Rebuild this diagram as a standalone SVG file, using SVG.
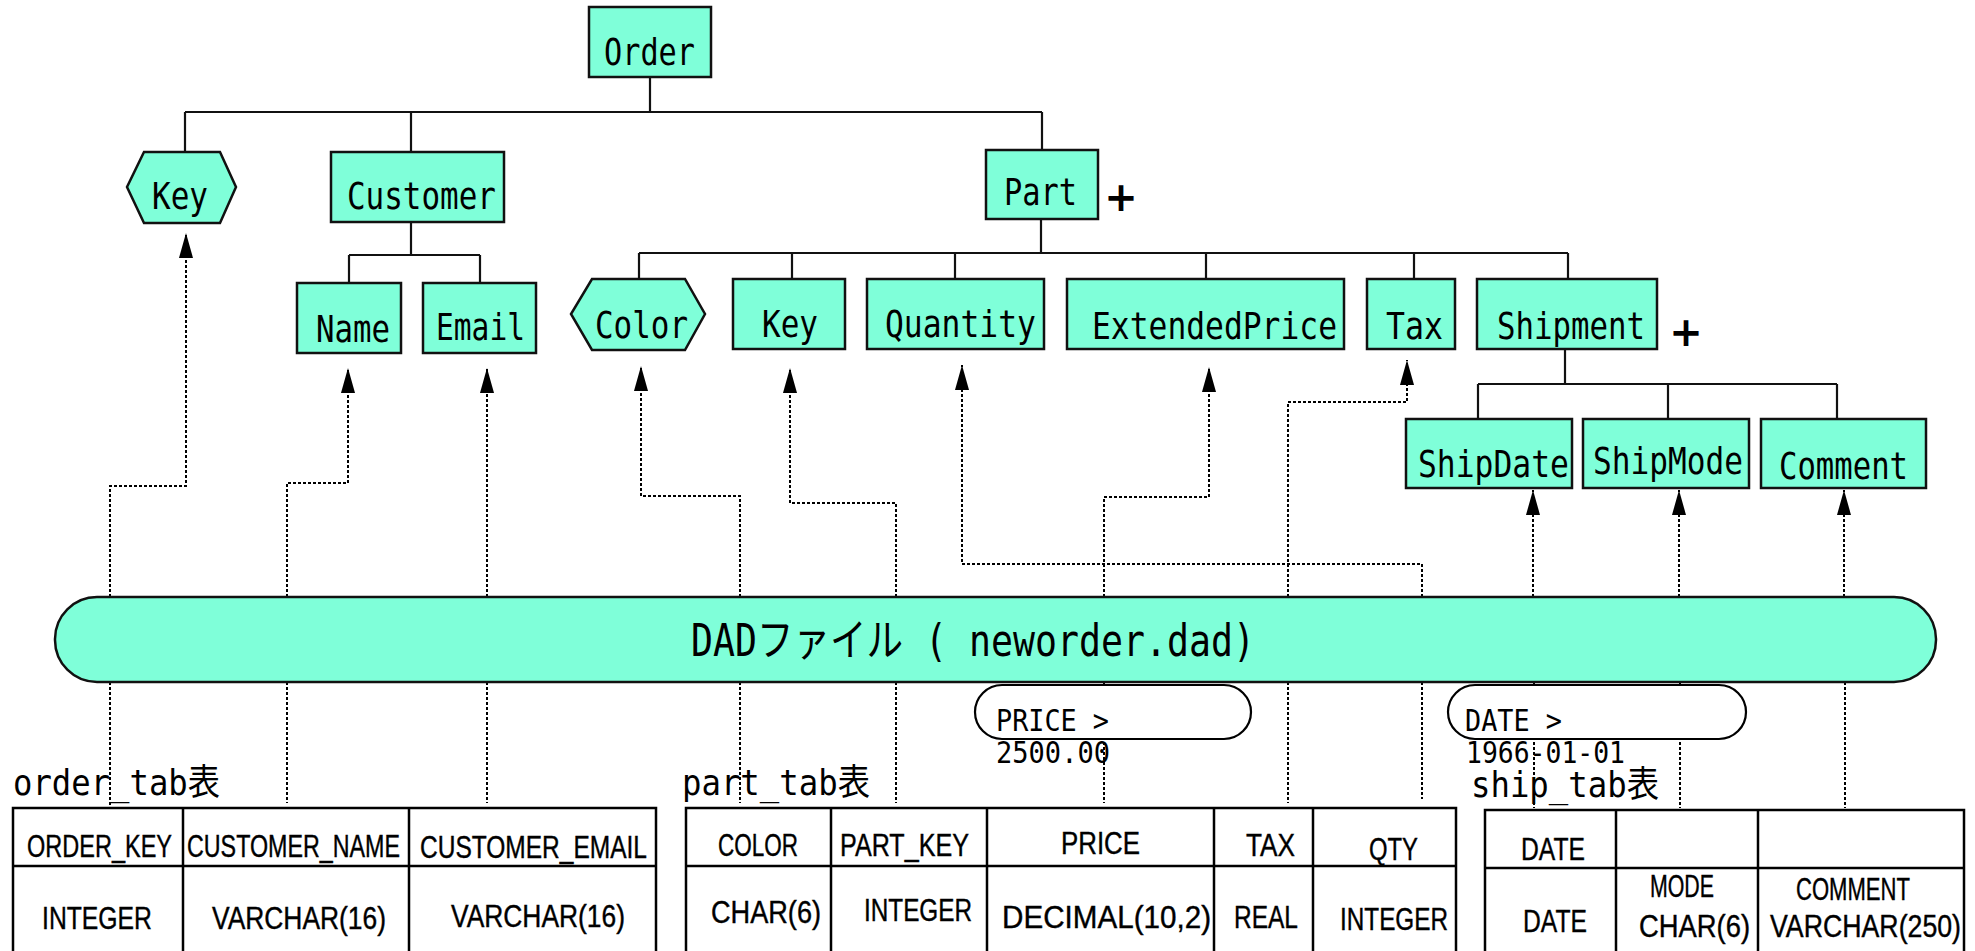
<svg xmlns="http://www.w3.org/2000/svg" width="1975" height="951" viewBox="0 0 1975 951">
<style>
.box{fill:#7fffd9;stroke:#111;stroke-width:2.5}
.n{font-family:"DejaVu Sans Mono",monospace;font-size:38px;fill:#000}
.t{font-family:"Liberation Sans",Arial,sans-serif;font-size:31px;fill:#000;stroke:#000;stroke-width:0.4}
.lbl{font-family:"DejaVu Sans Mono","Noto Sans CJK JP",monospace;font-size:36px;fill:#000}
.cond{font-family:"DejaVu Sans Mono",monospace;font-size:31px;fill:#000}
.tree{fill:none;stroke:#111;stroke-width:2.2}
.dot{fill:none;stroke:#000;stroke-width:2;stroke-dasharray:3 2}
.tbl{fill:none;stroke:#000;stroke-width:2.5}
.pill{fill:#fff;stroke:#000;stroke-width:2.2}
.plus{font-family:"DejaVu Sans",sans-serif;font-size:40px;font-weight:bold;fill:#000}
</style>
<defs>
<marker id="ah" markerUnits="userSpaceOnUse" viewBox="0 0 25 14" markerWidth="25" markerHeight="14" refX="25" refY="7" orient="auto">
<path d="M0,0 L25,7 L0,14 z" fill="#000"/>
</marker>
</defs>
<rect width="1975" height="951" fill="#fff"/>

<g id="tree-lines">
<path class="tree" d="M650,77 V112 M185,112 H1042 M185,112 V152 M411,112 V152 M1042,112 V150"/>
<path class="tree" d="M411,222 V255 M349,255 H480 M349,255 V283 M480,255 V283"/>
<path class="tree" d="M1041,219 V253 M639,253 H1568 M639,253 V279 M792,253 V279 M955,253 V279 M1206,253 V279 M1414,253 V279 M1568,253 V279"/>
<path class="tree" d="M1565,349 V384 M1478,384 H1837 M1478,384 V419 M1668,384 V419 M1837,384 V419"/>
</g>

<g id="connectors">
<path class="dot" marker-end="url(#ah)" d="M110,597 V486 H186 V233"/>
<path class="dot" marker-end="url(#ah)" d="M287,597 V483 H348 V368"/>
<path class="dot" marker-end="url(#ah)" d="M487,597 V368"/>
<path class="dot" marker-end="url(#ah)" d="M740,597 V496 H641 V366"/>
<path class="dot" marker-end="url(#ah)" d="M896,597 V503 H790 V368"/>
<path class="dot" marker-end="url(#ah)" d="M1422,597 V564 H962 V365"/>
<path class="dot" marker-end="url(#ah)" d="M1104,597 V497 H1209 V367"/>
<path class="dot" marker-end="url(#ah)" d="M1288,597 V402 H1407 V360"/>
<path class="dot" marker-end="url(#ah)" d="M1533,597 V490"/>
<path class="dot" marker-end="url(#ah)" d="M1679,597 V490"/>
<path class="dot" marker-end="url(#ah)" d="M1844,597 V490"/>
<path class="dot" d="M110,682 V807 M287,682 V803 M487,682 V803 M740,682 V803 M896,682 V803 M1104,682 V803 M1288,682 V803 M1422,682 V799 M1534,682 V808 M1680,682 V808 M1845,682 V808"/>
</g>

<g id="Order"><rect class="box" x="589" y="7" width="122" height="70"/><text class="n" x="604" y="65" textLength="91" lengthAdjust="spacingAndGlyphs">Order</text></g>
<g id="Key"><polygon class="box" points="144,152 220,152 236,187 220,223 144,223 127,187"/><text class="n" x="152" y="209" textLength="56" lengthAdjust="spacingAndGlyphs">Key</text></g>
<g id="Customer"><rect class="box" x="331" y="152" width="173" height="70"/><text class="n" x="347" y="209" textLength="149" lengthAdjust="spacingAndGlyphs">Customer</text></g>
<g id="Name"><rect class="box" x="297" y="283" width="104" height="70"/><text class="n" x="316" y="342" textLength="74" lengthAdjust="spacingAndGlyphs">Name</text></g>
<g id="Email"><rect class="box" x="423" y="283" width="113" height="70"/><text class="n" x="436" y="340" textLength="89" lengthAdjust="spacingAndGlyphs">Email</text></g>
<g id="Part"><rect class="box" x="986" y="150" width="112" height="69"/><text class="n" x="1004" y="205" textLength="73" lengthAdjust="spacingAndGlyphs">Part</text><text class="plus" x="1121" y="211" text-anchor="middle">+</text></g>
<g id="Color"><polygon class="box" points="592,279 685,279 705,314 685,350 592,350 571,314"/><text class="n" x="595" y="338" textLength="93" lengthAdjust="spacingAndGlyphs">Color</text></g>
<g id="PartKey"><rect class="box" x="733" y="279" width="112" height="70"/><text class="n" x="762" y="337" textLength="56" lengthAdjust="spacingAndGlyphs">Key</text></g>
<g id="Quantity"><rect class="box" x="867" y="279" width="177" height="70"/><text class="n" x="885" y="337" textLength="151" lengthAdjust="spacingAndGlyphs">Quantity</text></g>
<g id="ExtendedPrice"><rect class="box" x="1067" y="279" width="277" height="70"/><text class="n" x="1092" y="339" textLength="245" lengthAdjust="spacingAndGlyphs">ExtendedPrice</text></g>
<g id="Tax"><rect class="box" x="1367" y="279" width="88" height="70"/><text class="n" x="1386" y="339" textLength="57" lengthAdjust="spacingAndGlyphs">Tax</text></g>
<g id="Shipment"><rect class="box" x="1477" y="279" width="180" height="70"/><text class="n" x="1497" y="339" textLength="148" lengthAdjust="spacingAndGlyphs">Shipment</text><text class="plus" x="1686" y="346" text-anchor="middle">+</text></g>
<g id="ShipDate"><rect class="box" x="1406" y="419" width="166" height="69"/><text class="n" x="1418" y="477" textLength="151" lengthAdjust="spacingAndGlyphs">ShipDate</text></g>
<g id="ShipMode"><rect class="box" x="1583" y="419" width="166" height="69"/><text class="n" x="1593" y="474" textLength="150" lengthAdjust="spacingAndGlyphs">ShipMode</text></g>
<g id="Comment"><rect class="box" x="1761" y="419" width="165" height="69"/><text class="n" x="1779" y="479" textLength="129" lengthAdjust="spacingAndGlyphs">Comment</text></g>

<g id="DAD"><rect class="box" x="55" y="597" width="1881" height="85" rx="42" ry="42"/><text class="lbl" style="font-size:44px" x="691" y="656" textLength="564" lengthAdjust="spacingAndGlyphs">DADファイル ( neworder.dad)</text></g>

<g id="price-cond"><rect class="pill" x="975" y="685" width="276" height="54" rx="27" ry="27"/><text class="cond" x="996" y="731" textLength="113" lengthAdjust="spacingAndGlyphs">PRICE &gt;</text><text class="cond" x="996" y="763" textLength="114" lengthAdjust="spacingAndGlyphs">2500.00</text></g>
<g id="date-cond"><rect class="pill" x="1448" y="685" width="298" height="54" rx="27" ry="27"/><text class="cond" x="1465" y="731" textLength="97" lengthAdjust="spacingAndGlyphs">DATE &gt;</text><text class="cond" x="1466" y="763" textLength="159" lengthAdjust="spacingAndGlyphs">1966-01-01</text></g>

<g id="order_tab">
<text class="lbl" x="13" y="795" textLength="207" lengthAdjust="spacingAndGlyphs">order_tab表</text>
<rect class="tbl" x="13" y="808" width="643" height="160"/>
<path class="tbl" d="M13,866 H656 M183,808 V960 M409,808 V960"/>
<text class="t" x="27" y="857" textLength="145" lengthAdjust="spacingAndGlyphs">ORDER_KEY</text>
<text class="t" x="187" y="857" textLength="213" lengthAdjust="spacingAndGlyphs">CUSTOMER_NAME</text>
<text class="t" x="420" y="858" textLength="227" lengthAdjust="spacingAndGlyphs">CUSTOMER_EMAIL</text>
<text class="t" x="42" y="929" textLength="110" lengthAdjust="spacingAndGlyphs">INTEGER</text>
<text class="t" x="212" y="929" textLength="174" lengthAdjust="spacingAndGlyphs">VARCHAR(16)</text>
<text class="t" x="451" y="927" textLength="174" lengthAdjust="spacingAndGlyphs">VARCHAR(16)</text>
</g>

<g id="part_tab">
<text class="lbl" x="682" y="795" textLength="188" lengthAdjust="spacingAndGlyphs">part_tab表</text>
<rect class="tbl" x="686" y="808" width="770" height="160"/>
<path class="tbl" d="M686,866 H1456 M831,808 V960 M987,808 V960 M1214,808 V960 M1313,808 V960"/>
<text class="t" x="718" y="856" textLength="80" lengthAdjust="spacingAndGlyphs">COLOR</text>
<text class="t" x="840" y="856" textLength="129" lengthAdjust="spacingAndGlyphs">PART_KEY</text>
<text class="t" x="1061" y="854" textLength="79" lengthAdjust="spacingAndGlyphs">PRICE</text>
<text class="t" x="1246" y="856" textLength="49" lengthAdjust="spacingAndGlyphs">TAX</text>
<text class="t" x="1369" y="860" textLength="49" lengthAdjust="spacingAndGlyphs">QTY</text>
<text class="t" x="711" y="923" textLength="110" lengthAdjust="spacingAndGlyphs">CHAR(6)</text>
<text class="t" x="864" y="921" textLength="108" lengthAdjust="spacingAndGlyphs">INTEGER</text>
<text class="t" x="1002" y="928" textLength="209" lengthAdjust="spacingAndGlyphs">DECIMAL(10,2)</text>
<text class="t" x="1234" y="928" textLength="64" lengthAdjust="spacingAndGlyphs">REAL</text>
<text class="t" x="1340" y="930" textLength="108" lengthAdjust="spacingAndGlyphs">INTEGER</text>
</g>

<g id="ship_tab">
<text class="lbl" x="1471" y="797" textLength="188" lengthAdjust="spacingAndGlyphs">ship_tab表</text>
<rect class="tbl" x="1485" y="810" width="479" height="160"/>
<path class="tbl" d="M1485,868 H1964 M1616,810 V960 M1758,810 V960"/>
<text class="t" x="1521" y="860" textLength="64" lengthAdjust="spacingAndGlyphs">DATE</text>
<text class="t" x="1523" y="932" textLength="64" lengthAdjust="spacingAndGlyphs">DATE</text>
<text class="t" x="1650" y="897" textLength="64" lengthAdjust="spacingAndGlyphs">MODE</text>
<text class="t" x="1639" y="937" textLength="111" lengthAdjust="spacingAndGlyphs">CHAR(6)</text>
<text class="t" x="1796" y="900" textLength="114" lengthAdjust="spacingAndGlyphs">COMMENT</text>
<text class="t" x="1770" y="937" textLength="191" lengthAdjust="spacingAndGlyphs">VARCHAR(250)</text>
</g>
</svg>
